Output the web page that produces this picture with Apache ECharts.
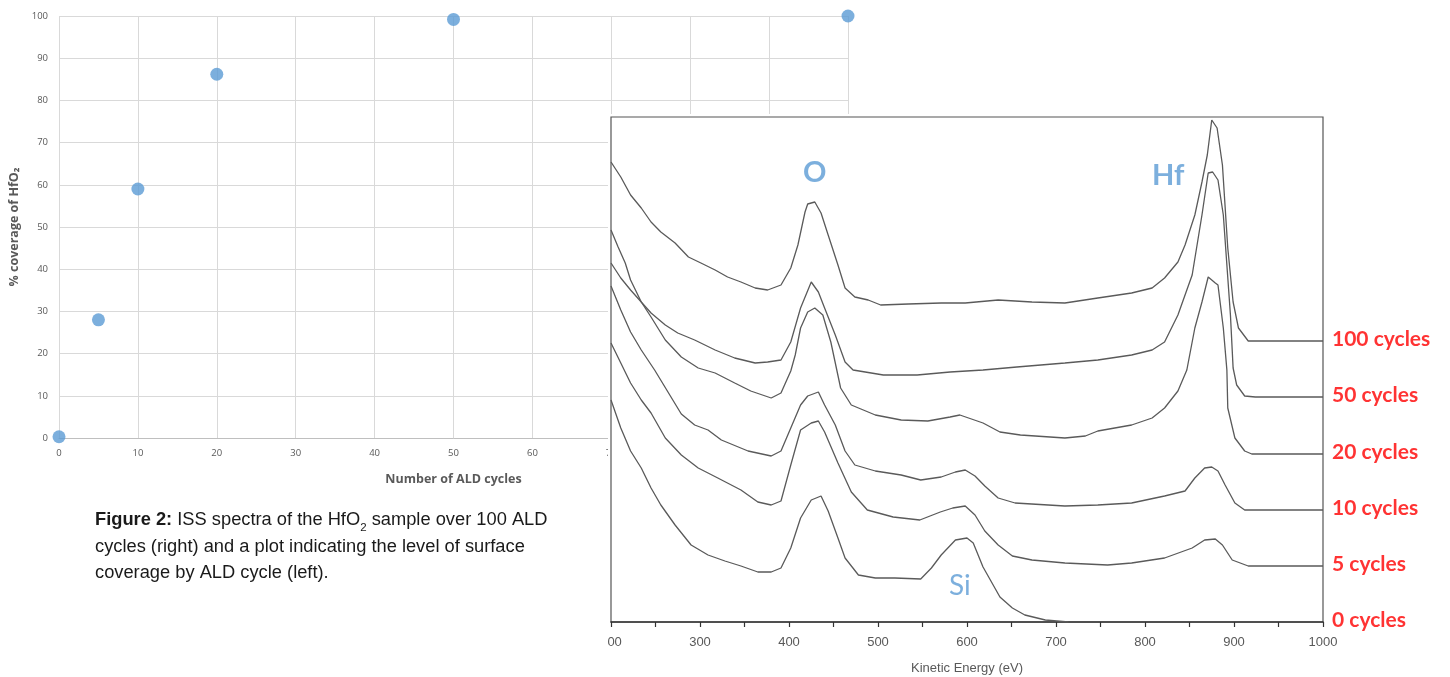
<!DOCTYPE html>
<html><head><meta charset="utf-8">
<script src="https://cdn.jsdelivr.net/npm/echarts@6/dist/echarts.min.js"></script>
<style>
html,body{margin:0;padding:0;background:#fff;width:1450px;height:677px;overflow:hidden}
#left{position:absolute;left:0;top:0;width:1450px;height:677px}
#right{position:absolute;left:608px;top:114px;width:842px;height:563px;background:#fff}
</style></head><body>
<div id="left"></div><div id="right"></div>
<script>
// ---- Left plot: surface coverage vs ALD cycles ----
const aldCycles = [0, 5, 10, 20, 50, 100];
const coverage  = [0.3, 28, 59, 86.2, 99.2, 100];

// ---- Right plot: ISS spectra [kinetic energy (eV), offset intensity (a.u.)] ----
const spec100 = [[200,460],[211,445],[222,427],[234,414],[245,400],[256,390],[272,379],[287,365],[301,359],[317,352],[331,345],[346,340],[362,334],[376,332],[391,337],[402,354],[410,377],[418,410],[421,418],[429,420],[436,409],[444,387],[455,357],[463,334],[474,325],[489,322],[503,317],[534,318],[571,319],[598,319],[635,322],[673,320],[710,319],[747,324],[785,329],[808,334],[822,344],[837,360],[845,377],[856,407],[864,440],[870,467],[875,502],[881,494],[887,457],[893,374],[899,320],[905,294],[916,281],[1000,281]];
const spec50 = [[200,359],[211,344],[222,332],[234,320],[245,309],[261,297],[275,289],[294,282],[317,272],[339,264],[362,259],[376,260],[391,262],[402,280],[413,314],[425,340],[433,330],[440,314],[452,287],[463,260],[472,252],[506,247],[544,247],[581,250],[618,252],[656,255],[710,259],[747,262],[785,267],[808,272],[822,280],[837,307],[853,347],[864,407],[871,449],[876,450],[882,442],[888,407],[892,357],[896,307],[899,254],[903,237],[912,226],[924,225],[1000,225]];
const spec20 = [[200,392],[208,375],[216,359],[222,342],[234,320],[245,305],[261,282],[279,265],[298,254],[317,249],[339,239],[357,231],[380,224],[391,229],[402,251],[407,267],[413,294],[421,310],[429,314],[438,307],[447,280],[458,234],[470,217],[497,207],[526,202],[556,201],[581,205],[592,207],[618,199],[637,190],[660,187],[710,184],[733,186],[747,191],[785,197],[808,204],[822,214],[837,231],[847,252],[856,294],[864,320],[871,345],[879,339],[882,337],[888,294],[892,252],[893,214],[901,184],[912,171],[920,168],[1000,168]];
const spec10 = [[200,336],[211,312],[222,290],[234,272],[249,252],[264,230],[279,208],[294,197],[309,192],[324,182],[354,171],[380,166],[391,171],[402,194],[413,217],[421,226],[433,230],[440,217],[452,197],[463,171],[474,157],[497,151],[526,147],[548,142],[571,145],[587,150],[598,152],[609,146],[620,136],[635,124],[654,119],[710,116],[747,117],[785,119],[822,126],[845,131],[856,144],[867,154],[875,155],[882,151],[890,137],[901,119],[912,112],[1000,112]];
const spec5 = [[200,279],[211,259],[222,239],[234,222],[245,209],[261,184],[279,167],[298,154],[320,144],[346,132],[365,120],[380,117],[391,121],[402,157],[413,192],[425,199],[433,201],[440,190],[455,159],[470,130],[488,112],[517,105],[547,102],[570,110],[584,114],[598,116],[609,107],[620,91],[635,77],[651,66],[673,62],[710,59],[758,57],[785,59],[822,64],[853,74],[867,82],[879,83],[887,77],[898,62],[916,56],[1000,56]];
const spec0 = [[200,222],[211,194],[222,171],[234,154],[245,134],[256,117],[272,97],[290,77],[309,67],[328,61],[346,56],[365,50],[380,50],[391,54],[402,74],[413,104],[425,122],[436,126],[444,111],[455,84],[463,64],[478,47],[497,44],[519,44],[548,43],[560,54],[571,67],[587,82],[600,84],[607,79],[618,55],[637,25],[651,14],[665,7],[688,2],[714,0]];
const spectra = [spec100, spec50, spec20, spec10, spec5, spec0];
const specLabels = ['100 cycles', '50 cycles', '20 cycles', '10 cycles', '5 cycles', '0 cycles'];
const specBaselines = [281, 225, 168, 112, 56, 0];
const energyTicks = [200, 300, 400, 500, 600, 700, 800, 900, 1000];

// ---------- left chart ----------
const left = echarts.init(document.getElementById('left'));
const ff = "'Open Sans', sans-serif";
const cap = "'Liberation Sans', Arial, sans-serif";
left.setOption({
  animation: false,
  grid: { left: 59, top: 16, width: 789, height: 422, outerBoundsMode: 'none' },
  xAxis: {
    type: 'value', min: 0, max: 100, interval: 10,
    axisLine: { lineStyle: { color: '#bfbfbf' } },
    axisTick: { show: false },
    axisLabel: { fontSize: 9.5, color: '#595959', margin: 10, fontFamily: ff },
    splitLine: { lineStyle: { color: '#d9d9d9' } },
    name: 'Number of ALD cycles', nameLocation: 'middle', nameGap: 35,
    nameTextStyle: { fontSize: 12.5, fontWeight: 'bold', color: '#595959', fontFamily: ff }
  },
  yAxis: {
    type: 'value', min: 0, max: 100, interval: 10,
    axisLine: { show: false }, axisTick: { show: false },
    axisLabel: { fontSize: 9.5, color: '#595959', margin: 11, fontFamily: ff },
    splitLine: { lineStyle: { color: '#d9d9d9' } },
    name: '% coverage of HfO₂', nameLocation: 'middle', nameGap: 38, nameRotate: 90,
    nameTextStyle: { fontSize: 12.5, fontWeight: 'bold', color: '#595959', fontFamily: ff }
  },
  series: [{
    type: 'scatter', symbolSize: 13,
    itemStyle: { color: '#5B9BD5' },
    data: aldCycles.map((c, i) => [c, coverage[i]])
  }],
  graphic: [{
    type: 'text', left: 95, top: 507,
    style: {
      text: '{b|Figure 2:} ISS spectra of the HfO{s|2} sample over 100 ALD\ncycles (right) and a plot indicating the level of surface\ncoverage by ALD cycle (left).',
      font: "18.3px " + cap,
      fill: '#1a1a1a', lineHeight: 26.5,
      rich: {
        b: { fontWeight: 'bold', fontSize: 18.3, fontFamily: cap, fill: '#1a1a1a' },
        s: { fontSize: 11.5, fontFamily: cap, verticalAlign: 'bottom', lineHeight: 14, fill: '#1a1a1a' }
      }
    }
  }]
});

// ---------- right chart ----------
const right = echarts.init(document.getElementById('right'));
const lineSeries = spectra.map((d, i) => ({
  type: 'line', name: specLabels[i], data: d, symbol: 'none',
  lineStyle: { color: '#5a5a5a', width: 1.3 }, z: 3
}));
right.setOption({
  animation: false,
  grid: { left: 3, top: 3, width: 712, height: 505, outerBoundsMode: 'none', show: true, backgroundColor: '#fff', borderColor: '#555', borderWidth: 1.2 },
  xAxis: {
    type: 'value', min: 200, max: 1000, interval: 50,
    axisLine: { lineStyle: { color: '#333', width: 1.6 } },
    axisTick: { length: 5, lineStyle: { color: '#333', width: 1.2 } },
    axisLabel: {
      formatter: v => energyTicks.includes(v) ? String(v) : '',
      margin: 14, fontSize: 13, color: '#595959', fontFamily: cap
    },
    splitLine: { show: false },
    name: 'Kinetic Energy (eV)', nameLocation: 'middle', nameGap: 40,
    nameTextStyle: { fontSize: 13, color: '#595959', fontFamily: cap }
  },
  yAxis: { type: 'value', min: 0, max: 505, show: false },
  series: lineSeries.concat([
    {
      type: 'scatter', symbolSize: 0, z: 5, silent: true,
      data: specLabels.map((n, i) => ({ name: n, value: [1000, specBaselines[i]] })),
      label: { show: true, position: 'right', distance: 9, offset: [0, -2], formatter: p => p.name,
        color: '#ff0000', fontSize: 21, fontWeight: 'bold', fontFamily: "Lato, 'Open Sans', sans-serif" }
    },
    {
      type: 'scatter', symbolSize: 0, z: 5, silent: true,
      data: [{ name: 'O', value: [429, 449] }, { name: 'Hf', value: [826, 446] }],
      label: { show: true, position: 'inside', formatter: p => p.name,
        color: '#5B9BD5', fontSize: 29, fontWeight: 'bold', fontFamily: "Lato, 'Open Sans', sans-serif" }
    },
    {
      type: 'scatter', symbolSize: 0, z: 5, silent: true,
      data: [{ name: 'Si', value: [592, 36] }],
      label: { show: true, position: 'inside', formatter: p => p.name,
        color: '#5B9BD5', fontSize: 28, fontFamily: "Lato, 'Open Sans', sans-serif" }
    }
  ])
});
</script>
</body></html>
